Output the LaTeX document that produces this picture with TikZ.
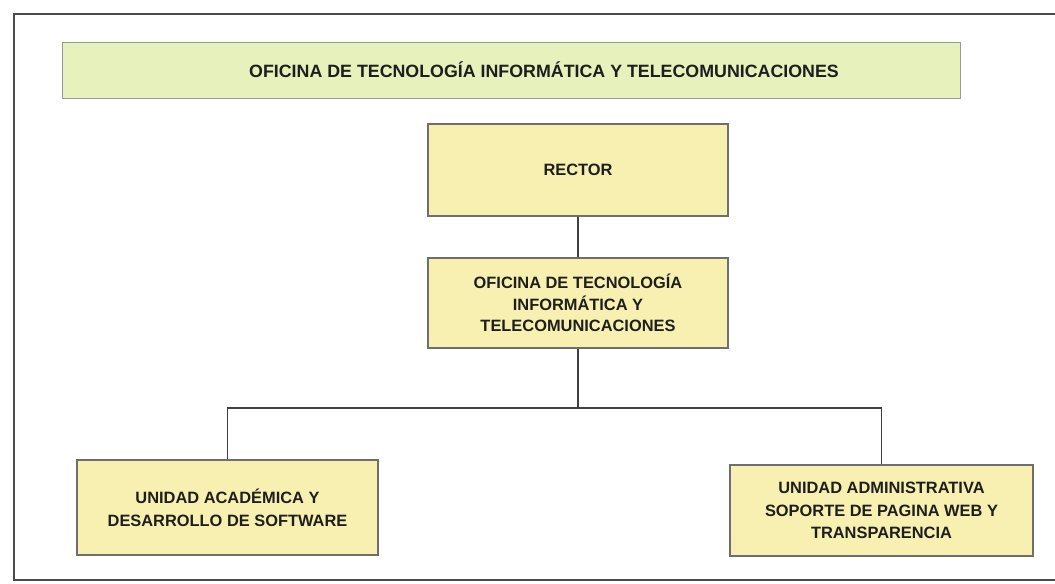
\documentclass[tikz,border=0pt]{standalone}
\usepackage{fontspec}
\setmainfont{Liberation Sans}
\definecolor{boxyellow}{HTML}{F8F0B0}
\definecolor{titlegreen}{HTML}{E6F1BC}
\definecolor{edgegray}{HTML}{6E6E6E}
\definecolor{txtdark}{HTML}{1E1E1E}
\begin{document}
\begin{tikzpicture}[x=0.03cm,y=-0.03cm,
  unitbox/.style={draw=edgegray,line width=0.9pt,fill=boxyellow,align=center,
    inner sep=0pt,font=\fontsize{14}{19.5}\selectfont\bfseries,text=txtdark},
  titlebox/.style={draw=edgegray!70,line width=0.8pt,fill=titlegreen,inner sep=0pt,
    font=\fontsize{15.2}{18}\selectfont\bfseries,text=txtdark},
  link/.style={draw=black!75,line width=1.1pt}]
\useasboundingbox (0,0) rectangle (1055,584);
\fill[white] (0,0) rectangle (1055,584);
% outer frame
\draw[black!70,line width=1.2pt] (1055,14) -- (14,14) -- (14,580) -- (1055,580);
% title
\node[titlebox,minimum width=898*0.03cm,minimum height=56*0.03cm] (title) at (511,70)
  {\hspace*{1.98cm}OFICINA DE TECNOLOGÍA INFORMÁTICA Y TELECOMUNICACIONES};
% boxes
\node[unitbox,minimum width=300*0.03cm,minimum height=92*0.03cm] (rector) at (578,170) {RECTOR};
\node[unitbox,minimum width=300*0.03cm,minimum height=90*0.03cm,font=\fontsize{14}{18.3}\selectfont\bfseries] (otic) at (578,303)
  {OFICINA DE TECNOLOGÍA\\INFORMÁTICA Y\\TELECOMUNICACIONES};
\node[unitbox,minimum width=301*0.03cm,minimum height=95*0.03cm] (ua) at (227.5,507.5)
  {UNIDAD ACADÉMICA Y\\DESARROLLO DE SOFTWARE};
\node[unitbox,minimum width=303*0.03cm,minimum height=91*0.03cm] (ub) at (881.5,510.5)
  {UNIDAD ADMINISTRATIVA\\SOPORTE DE PAGINA WEB Y\\TRANSPARENCIA};
% connectors
\coordinate (j) at (578,408);
\draw[link] (rector.south) -- (otic.north);
\draw[link] (otic.south) -- (j);
\draw[link] (ua.north) |- (j) -| (ub.north);
\end{tikzpicture}
\end{document}
